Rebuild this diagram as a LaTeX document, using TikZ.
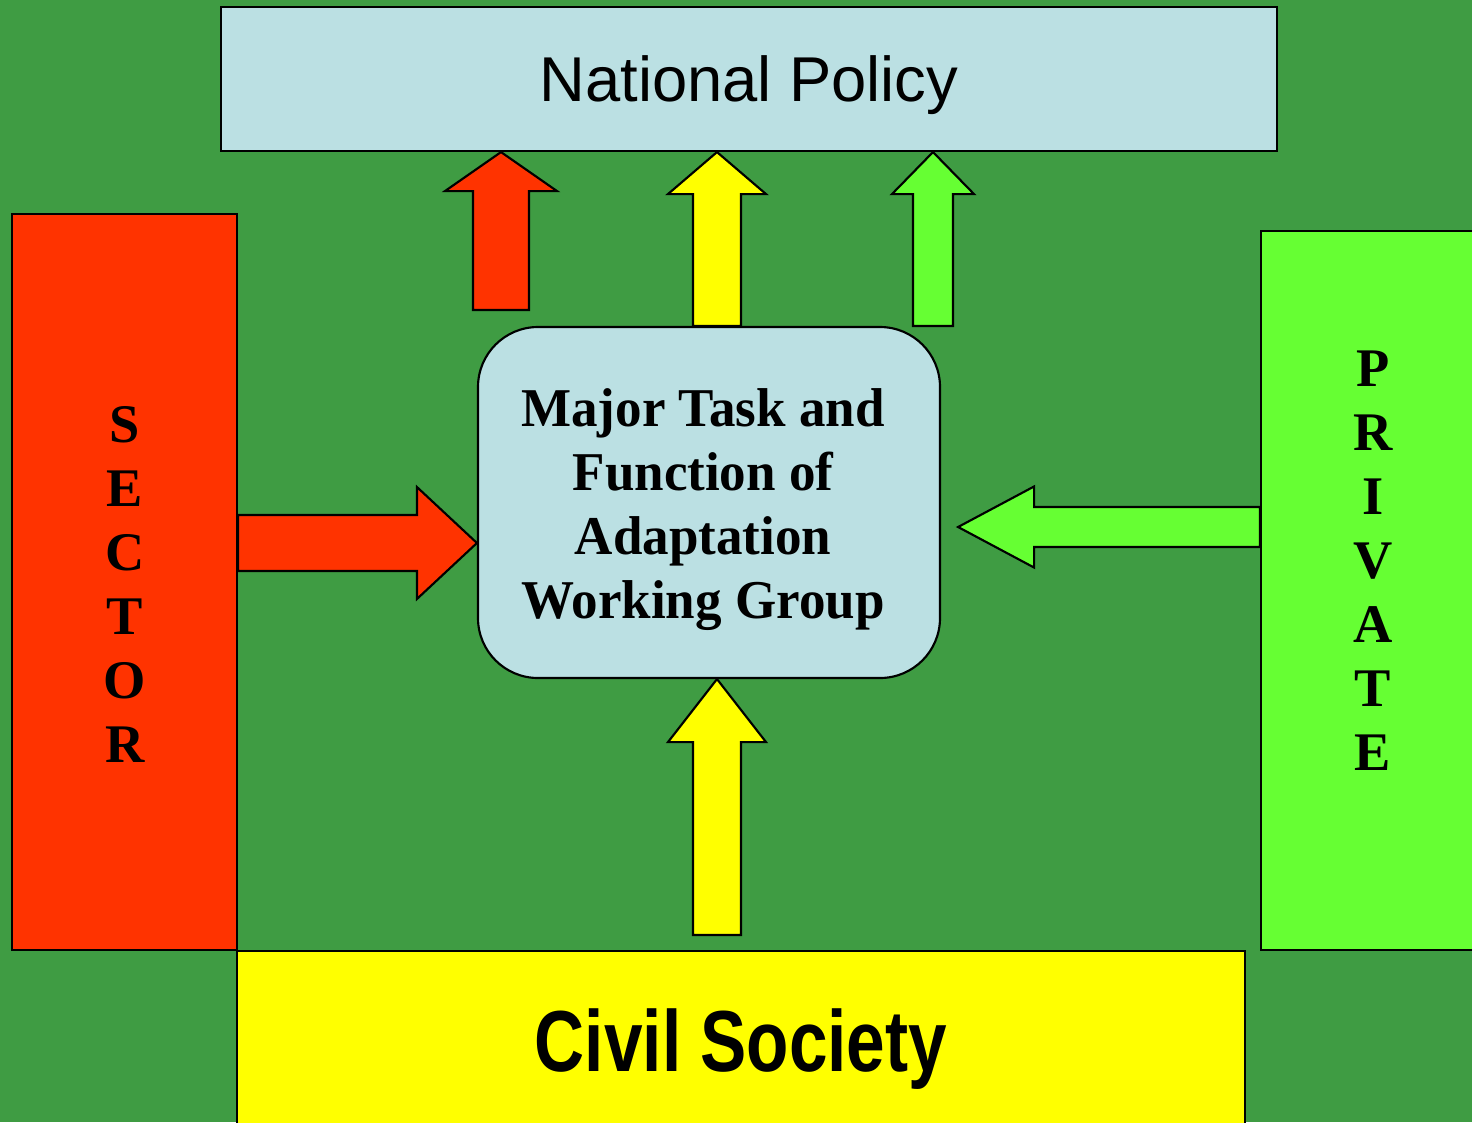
\documentclass[tikz,border=0pt]{standalone}
\usepackage{fontspec}
\setmainfont{Liberation Serif}
\newfontfamily\policyfont{Liberation Sans}
\newfontfamily\civilfont[FakeStretch=0.8]{Liberation Sans}
\newfontfamily\taskfont[FakeStretch=0.97]{Liberation Serif}
\usetikzlibrary{calc}

\definecolor{bggreen}{RGB}{63,156,67}
\definecolor{paleblue}{RGB}{187,224,227}
\definecolor{sectorred}{RGB}{255,51,0}
\definecolor{civilyellow}{RGB}{255,255,0}
\definecolor{privategreen}{RGB}{102,255,51}

\tikzset{
  box/.style={draw=black, line width=1.6pt, inner sep=0pt},
  arrowbody/.style={draw=black, line width=1.6pt, line join=miter},
  letters/.style={font=\bfseries\fontsize{40.8}{48}\selectfont, align=center, inner sep=0pt},
}

% tail, tip, shaft half width, head half width, head length, colour
\newcommand{\blockarrow}[6]{%
  \path ($(#2)!#5!(#1)$) coordinate (hb);
  \draw[arrowbody, fill=#6] ($(#1)!#3!90:(#2)$) -- ($(hb)!#3!90:(#2)$) -- ($(hb)!#4!90:(#2)$) -- (#2)
    -- ($(hb)!#4!-90:(#2)$) -- ($(hb)!#3!-90:(#2)$) -- ($(#1)!#3!-90:(#2)$) -- cycle;
}

\begin{document}
\begin{tikzpicture}[x=0.75pt,y=0.75pt,yscale=-1,xscale=1]
\useasboundingbox (0,0) rectangle (1472,1122);
\fill[bggreen] (0,0) rectangle (1472,1122);

% boxes
\node[box, fill=paleblue, minimum width=792pt, minimum height=108pt, text depth=0pt, font=\policyfont\fontsize{47.5}{57}\selectfont] (policy) at (749,79) {National Policy};
\node[box, fill=sectorred, minimum width=168.75pt, minimum height=552pt] (sector) at (124.5,582) {};
\node[box, fill=privategreen, minimum width=164.25pt, minimum height=539.25pt] (private) at (1370.5,590.5) {};
\node[box, fill=civilyellow, minimum width=756pt, minimum height=134.25pt, text depth=0pt, font=\civilfont\bfseries\fontsize{65}{78}\selectfont] (civil) at (741,1040.5) {Civil Society};
\node[box, fill=paleblue, rounded corners=45pt, minimum width=346.5pt, minimum height=263.25pt] (task) at (709,502.5) {};

\node[letters] (sectorlbl) at (125,584.5) {S\\E\\C\\T\\O\\R};
\node[letters] (privatelbl) at (1373,560.5) {P\\R\\I\\V\\A\\T\\E};
\node[align=center, inner sep=0pt, font=\taskfont\bfseries\fontsize{41}{48}\selectfont] (tasklbl) at (703,510) {Major Task and\\Function of\\Adaptation\\Working Group};

% arrows
\coordinate (redtail) at (501,310);
\coordinate (redtip) at (policy.south -| redtail);
\coordinate (yeltail) at ($(task.north)+(8,0)$);
\coordinate (yeltip) at (policy.south -| yeltail);
\coordinate (grntail) at ($(task.north)+(224,0)$);
\coordinate (grntip) at (policy.south -| grntail);
\coordinate (sectail) at ($(sector.east)+(0,-39)$);
\coordinate (sectip) at (task.west |- sectail);
\coordinate (privtail) at ($(private.west)+(0,-63.5)$);
\coordinate (privtip) at ($(task.east |- privtail)+(17,0)$);
\coordinate (civtail) at ($(civil.north)+(-24,-15)$);
\coordinate (civtip) at (task.south -| civtail);

\blockarrow{redtail}{redtip}{21pt}{42pt}{29.25pt}{sectorred}
\blockarrow{yeltail}{yeltip}{18pt}{36.75pt}{31.5pt}{civilyellow}
\blockarrow{grntail}{grntip}{15pt}{30.75pt}{31.5pt}{privategreen}
\blockarrow{sectail}{sectip}{21pt}{42pt}{45pt}{sectorred}
\blockarrow{privtail}{privtip}{15pt}{30.4pt}{57pt}{privategreen}
\blockarrow{civtail}{civtip}{18pt}{36.75pt}{47.25pt}{civilyellow}

\end{tikzpicture}
\end{document}
